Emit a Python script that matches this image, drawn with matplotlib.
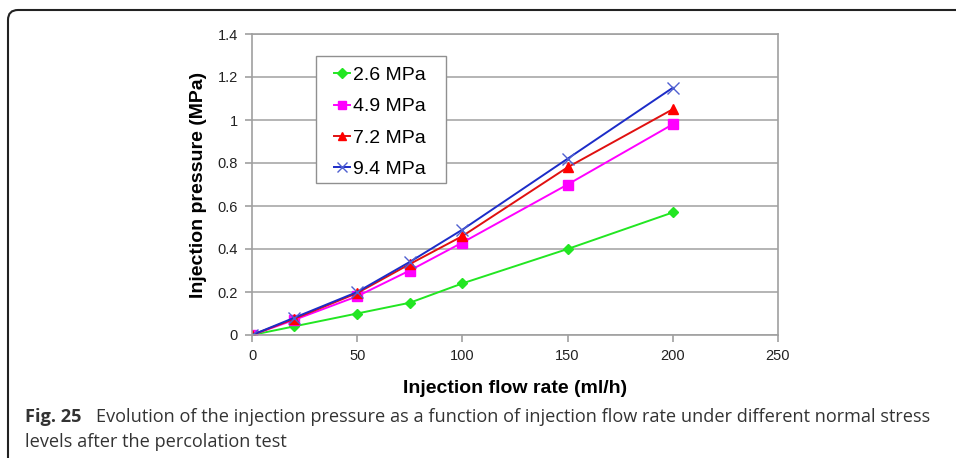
import matplotlib
matplotlib.use("Agg")
import matplotlib.pyplot as plt
from matplotlib.patches import FancyBboxPatch, Rectangle

flow = [0, 20, 50, 75, 100, 150, 200]
p26 = [0, 0.04, 0.10, 0.15, 0.24, 0.40, 0.57]
p49 = [0, 0.07, 0.18, 0.30, 0.43, 0.70, 0.98]
p72 = [0, 0.075, 0.195, 0.33, 0.46, 0.78, 1.05]
p94 = [0, 0.08, 0.20, 0.34, 0.49, 0.82, 1.15]
labels = ["2.6 MPa", "4.9 MPa", "7.2 MPa", "9.4 MPa"]
xticks = [0, 50, 100, 150, 200, 250]
yticks = [0, 0.2, 0.4, 0.6, 0.8, 1, 1.2, 1.4]
ytick_labels = ["0", "0.2", "0.4", "0.6", "0.8", "1", "1.2", "1.4"]

W, H = 956, 458
fig = plt.figure(figsize=(W / 100, H / 100), dpi=100)
ax = fig.add_axes([252 / W, 1 - 335 / H, (778 - 252) / W, (335 - 34) / H])

font = "Liberation Sans"
ax.plot(flow, p26, color="#22e622", marker="D", ms=5.5, lw=1.4, label=labels[0])
ax.plot(flow, p49, color="#ff00ff", marker="s", ms=6.5, lw=1.4, label=labels[1])
ax.plot(flow, p72, color="#e01010", marker="^", ms=7.5, lw=1.4, label=labels[2], mfc="#ff0000", mec="#ff0000")
ax.plot(flow, p94, color="#1c2cc8", marker="x", ms=8, lw=1.4, mew=1.0, label=labels[3], mec="#5060d0")

ax.set_xlim(0, 250)
ax.set_ylim(0, 1.4)
ax.set_xticks(xticks)
ax.set_yticks(yticks)
ax.set_yticklabels(ytick_labels)
ax.yaxis.grid(True, color="#a8a8a8", lw=1.2)
ax.set_axisbelow(True)
for s in ax.spines.values():
    s.set_color("#a0a0a0")
    s.set_linewidth(1.2)
ax.tick_params(colors="#a0a0a0", length=5, width=1.2, labelcolor="#222222", labelsize=10.5, pad=5)
for lab in ax.get_xticklabels() + ax.get_yticklabels():
    lab.set_fontfamily(font)
ax.set_xlabel("Injection flow rate (ml/h)", fontsize=14, fontweight="bold", family=font, labelpad=12)
ax.set_ylabel("Injection pressure (MPa)", fontsize=14, fontweight="bold", family=font, labelpad=8)

# legend box drawn separately, legend entries without frame
box = Rectangle((0.1217, 0.505), 0.3688 - 0.1217, 0.9269 - 0.505, transform=ax.transAxes,
                facecolor="white", edgecolor="#909090", lw=1.0, zorder=4)
ax.add_patch(box)
leg = ax.legend(loc="upper left", bbox_to_anchor=(0.156, 0.892), frameon=False,
                prop={"family": font, "size": 14}, handlelength=0.8,
                handletextpad=0.15, borderpad=0, labelspacing=0.7, borderaxespad=0,
                markerscale=0.85)
leg.set_zorder(5)

# outer frame (in inches)
frame = FancyBboxPatch((0.08, -1.0), 12.0, H / 100 - 0.10 + 1.0, boxstyle="round,pad=0,rounding_size=0.1",
                       transform=fig.dpi_scale_trans, fill=False, edgecolor="#222222", lw=1.5, clip_on=False)
fig.add_artist(frame)

cap_font = "Open Sans"
capc = "#333333"
cs = 13.1
t1 = fig.text(25 / W, 1 - 417 / H, "Fig. 25", fontsize=cs, fontweight="bold", family=cap_font,
              color=capc, va="center")
fig.canvas.draw()
bb = t1.get_window_extent()
fig.text((bb.x1 + 14) / W, 1 - 417 / H,
         "Evolution of the injection pressure as a function of injection flow rate under different normal stress",
         fontsize=cs, family=cap_font, color=capc, va="center")
fig.text(25 / W, 1 - 442 / H, "levels after the percolation test", fontsize=cs, family=cap_font,
         color=capc, va="center")

fig.savefig("out.png", dpi=100)
